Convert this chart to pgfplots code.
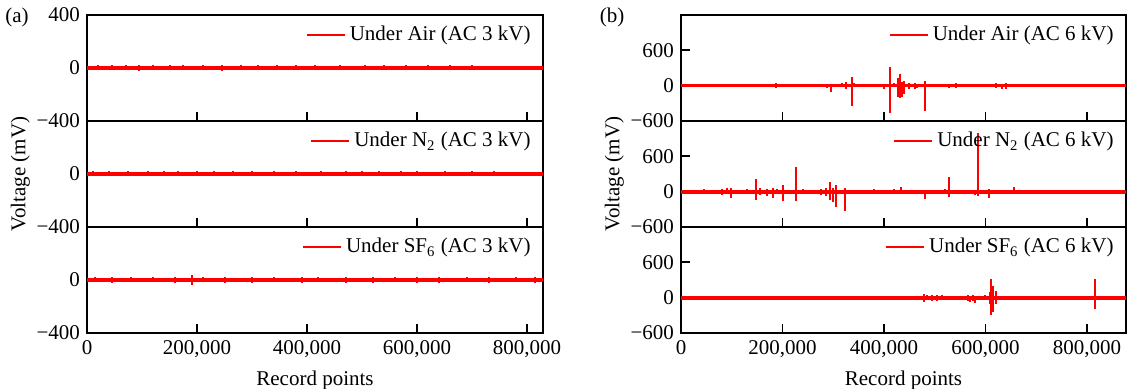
\documentclass[border=0pt]{standalone}
\usepackage{fontspec}
\setmainfont{Liberation Serif}
\usepackage{pgfplots}
\usepackage{pgfplotstable}
\pgfplotsset{compat=1.18}
\newcommand{\fs}{\fontsize{10.5}{12}\selectfont}

% ---- panel (a) ----
\pgfplotstableread{
x u d
20000 22 -18
45000 20 -16
70000 22 -18
95000 24 -19
120000 21 -17
150000 23 -18
175000 22 -18
210000 23 -17
245000 24 -19
280000 21 -18
310000 23 -18
345000 22 -17
380000 23 -17
415000 21 -18
460000 22 -17
505000 20 -18
540000 22 -17
580000 21 -17
620000 22 -18
660000 23 -18
700000 21 -17
}\airA
\pgfplotstableread{
x u d
10000 21 -18
40000 22 -17
75000 21 -18
110000 23 -18
140000 22 -18
165000 21 -17
200000 22 -18
230000 23 -18
265000 21 -17
300000 22 -18
340000 21 -18
380000 20 -18
425000 22 -17
470000 23 -18
500000 22 -18
530000 21 -18
570000 20 -17
600000 22 -18
650000 21 -18
700000 20 -17
740000 20 -17
}\nitA
\pgfplotstableread{
x u d
15000 20 -18
45000 22 -19
80000 20 -18
120000 22 -18
160000 20 -19
190000 38 -36
210000 21 -18
250000 22 -19
300000 21 -19
340000 23 -18
390000 22 -19
420000 21 -18
470000 20 -19
520000 22 -19
560000 21 -18
600000 22 -19
640000 21 -19
690000 22 -18
730000 21 -19
780000 20 -18
815000 21 -19
}\sfA

% ---- panel (b) ----
\pgfplotstableread{
x u d
25000 15 -10
60000 10 -15
100000 12 -10
140000 10 -20
163000 25 -30
188000 40 -35
193000 20 -25
210000 20 -15
225000 25 -20
235000 30 -25
248000 35 -20
270000 20 -20
288000 30 -40
295000 15 -113
318000 40 -30
325000 60 -50
336000 153 -340
340000 40 -30
360000 20 -20
385000 20 -25
400000 30 -60
405000 35 -20
412000 323 -464
420000 50 -30
428000 130 -200
431000 198 -215
435000 60 -198
439000 80 -140
450000 40 -60
461000 50 -50
465000 30 -40
481000 85 -425
520000 20 -30
528000 30 -40
541000 50 -35
548000 30 -30
600000 20 -20
620000 40 -35
632000 30 -50
640000 40 -60
645000 30 -30
655000 20 -30
700000 15 -15
818000 10 -15
850000 10 -10
}\airB
\pgfplotstableread{
x u d
10000 30 -20
25000 35 -25
45000 40 -30
60000 30 -20
80000 40 -50
90000 60 -30
99000 60 -107
105000 30 -40
130000 40 -30
148500 215 -140
155000 60 -60
170000 50 -70
182000 70 -100
190000 50 -40
201000 119 -164
226000 425 -164
240000 40 -30
260000 30 -40
275000 40 -50
285000 60 -70
293600 158 -150
300000 60 -180
306000 120 -255
315000 30 -40
324000 60 -334
340000 30 -40
380000 50 -40
400000 30 -30
420000 40 -40
434000 85 -40
460000 30 -30
481000 30 -125
500000 30 -30
520000 40 -40
529000 243 -85
545000 30 -30
560000 30 -40
580000 30 -50
586000 990 -70
607000 50 -107
630000 20 -20
656000 85 -20
700000 10 -10
}\nitB
\pgfplotstableread{
x u d
20000 15 -10
60000 10 -15
100000 15 -10
150000 10 -10
270000 10 -15
320000 10 -10
375000 20 -15
385000 20 -20
395000 25 -30
410000 15 -40
425000 20 -20
440000 20 -20
460000 30 -25
478000 70 -70
485000 40 -40
495000 50 -50
505000 40 -50
515000 50 -40
530000 30 -30
545000 20 -40
566000 40 -50
570000 30 -70
575000 40 -50
580000 20 -96
600000 40 -30
608000 100 -100
611000 311 -294
614000 200 -250
620000 119 -100
630000 30 -40
650000 20 -20
680000 20 -30
700000 15 -20
730000 20 -30
760000 20 -20
790000 20 -20
816000 311 -198
820000 30 -40
850000 20 -20
870000 20 -20
}\sfB

\pgfplotsset{
  panel/.style={
    scale only axis, height=53pt,
    axis line style={line width=0.9pt},
    every tick/.style={line width=0.9pt, black},
    major tick length=4.5pt,
    tick align=inside,
    xtick pos=bottom, ytick pos=left,
    xtick={0,200000,400000,600000,800000},
    xticklabels={},
    scaled x ticks=false, scaled y ticks=false,
    tick label style={font=\fs},
    label style={font=\fs},
    ylabel shift=-3.5pt,
    legend style={at={(1,1)}, anchor=north east, draw=none, fill=none,
      font=\fs, inner sep=2pt, xshift=-2pt, yshift=-1.5pt},
    legend image code/.code={\draw (0pt,0pt) -- (19pt,0pt);},
  },
  pa/.style={panel, width=228pt, xmin=0, xmax=829000, ymin=-400, ymax=400},
  pb/.style={panel, width=222.5pt, xmin=0, xmax=877000, ymin=-600, ymax=1200,
    ytick={-600,0,600}, yticklabels={−600,0,600}},
  spk/.style={red, line width=1pt, ycomb, forget plot, mark=none},
  base/.style={red, forget plot, mark=none},
  xlab/.style={xticklabels={0,{200,000},{400,000},{600,000},{800,000}},
    xlabel={Record points}},
}

\begin{document}
\begin{tikzpicture}[font=\fs]
\path[use as bounding box] (0,0) rectangle (563.5pt,-194.5pt);

% ===== (a) =====
\begin{axis}[pa, at={(43.5pt,-7.5pt)}, anchor=north west,
  ytick={-400,0,400}, yticklabels={−400,0,400}]
\addplot[base, line width=2.3pt] coordinates {(0,0) (829000,0)};
\addplot[spk] table[x=x,y=u]{\airA};
\addplot[spk] table[x=x,y=d]{\airA};
\addlegendimage{red, line width=1pt}
\addlegendentry{Under Air (AC 3 kV)}
\end{axis}

\begin{axis}[pa, at={(43.5pt,-60.5pt)}, anchor=north west,
  ytick={-400,0}, yticklabels={−400,0}, ylabel={Voltage (mV)}]
\addplot[base, line width=2.3pt] coordinates {(0,0) (829000,0)};
\addplot[spk] table[x=x,y=u]{\nitA};
\addplot[spk] table[x=x,y=d]{\nitA};
\addlegendimage{red, line width=1pt}
\addlegendentry{Under N\textsubscript{2} (AC 3 kV)}
\end{axis}

\begin{axis}[pa, xlab, at={(43.5pt,-113.5pt)}, anchor=north west,
  ytick={-400,0}, yticklabels={−400,0}]
\addplot[base, line width=2.3pt] coordinates {(0,0) (829000,0)};
\addplot[spk] table[x=x,y=u]{\sfA};
\addplot[spk] table[x=x,y=d]{\sfA};
\addlegendimage{red, line width=1pt}
\addlegendentry{Under SF\textsubscript{6} (AC 3 kV)}
\end{axis}

% ===== (b) =====
\begin{axis}[pb, at={(340.5pt,-7.5pt)}, anchor=north west]
\addplot[base, line width=1.8pt] coordinates {(0,0) (877000,0)};
\addplot[spk] table[x=x,y=u]{\airB};
\addplot[spk] table[x=x,y=d]{\airB};
\addlegendimage{red, line width=1pt}
\addlegendentry{Under Air (AC 6 kV)}
\end{axis}

\begin{axis}[pb, at={(340.5pt,-60.5pt)}, anchor=north west, ylabel={Voltage (mV)}]
\addplot[base, line width=2pt] coordinates {(0,0) (877000,0)};
\addplot[spk] table[x=x,y=u]{\nitB};
\addplot[spk] table[x=x,y=d]{\nitB};
\addlegendimage{red, line width=1pt}
\addlegendentry{Under N\textsubscript{2} (AC 6 kV)}
\end{axis}

\begin{axis}[pb, xlab, at={(340.5pt,-113.5pt)}, anchor=north west]
\addplot[base, line width=2pt] coordinates {(0,0) (877000,0)};
\addplot[spk] table[x=x,y=u]{\sfB};
\addplot[spk] table[x=x,y=d]{\sfB};
\addlegendimage{red, line width=1pt}
\addlegendentry{Under SF\textsubscript{6} (AC 6 kV)}
\end{axis}

\node at (8.5pt,-8.5pt) {(a)};
\node at (306pt,-8.5pt) {(b)};
\end{tikzpicture}
\end{document}
